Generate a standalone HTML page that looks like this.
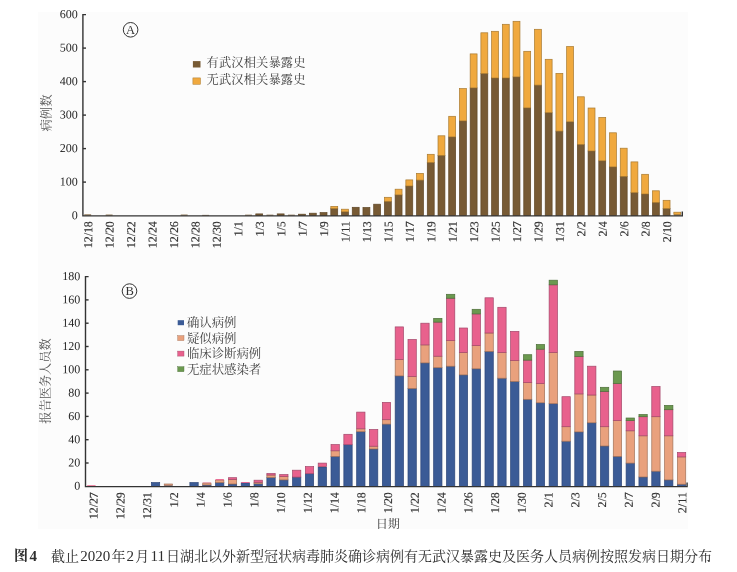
<!DOCTYPE html>
<html lang="zh-CN">
<head>
<meta charset="utf-8">
<title>图4</title>
<style>
html,body{margin:0;padding:0;background:#fff;}
body{width:737px;height:572px;overflow:hidden;position:relative;font-family:"Liberation Serif","Noto Serif CJK SC",serif;color:#303030;}
#fig{position:absolute;left:38px;top:11.5px;width:650px;height:517px;background:#fcfcfc;}
svg{position:absolute;left:0;top:0;}
#cap{position:absolute;left:0;top:545.6px;width:737px;height:20px;line-height:20px;font-size:14px;white-space:nowrap;color:#2e2e2e;}
#cap .n{font-size:15px;margin:0 1.2px;line-height:20px;}
#cap b.n{margin:0;}
#cap b{font-weight:700;}
</style>
</head>
<body>
<div id="fig"></div>
<svg width="737" height="572" viewBox="0 0 737 572">
<g id="barsA">
<rect x="84.25" y="214.40" width="6.90" height="1.20" fill="#775a34"/>
<rect x="105.69" y="214.60" width="6.90" height="1.00" fill="#775a34"/>
<rect x="180.73" y="214.60" width="6.90" height="1.00" fill="#775a34"/>
<rect x="202.17" y="214.90" width="6.90" height="0.70" fill="#775a34"/>
<rect x="245.05" y="214.70" width="6.90" height="0.90" fill="#775a34"/>
<rect x="255.77" y="213.90" width="6.90" height="1.70" fill="#775a34" stroke="#5e4626" stroke-width="0.7"/>
<rect x="266.49" y="214.70" width="6.90" height="0.90" fill="#775a34"/>
<rect x="277.21" y="213.90" width="6.90" height="1.70" fill="#775a34" stroke="#5e4626" stroke-width="0.7"/>
<rect x="287.93" y="214.70" width="6.90" height="0.90" fill="#775a34"/>
<rect x="298.65" y="214.20" width="6.90" height="1.40" fill="#775a34" stroke="#5e4626" stroke-width="0.7"/>
<rect x="309.37" y="213.20" width="6.90" height="2.40" fill="#775a34" stroke="#5e4626" stroke-width="0.7"/>
<rect x="320.09" y="212.60" width="6.90" height="3.00" fill="#775a34" stroke="#5e4626" stroke-width="0.7"/>
<rect x="330.81" y="208.60" width="6.90" height="7.00" fill="#775a34" stroke="#5e4626" stroke-width="0.7"/>
<rect x="330.81" y="206.40" width="6.90" height="2.20" fill="#f0a93e" stroke="#a87a30" stroke-width="0.7"/>
<rect x="341.53" y="211.80" width="6.90" height="3.80" fill="#775a34" stroke="#5e4626" stroke-width="0.7"/>
<rect x="341.53" y="209.20" width="6.90" height="2.60" fill="#f0a93e" stroke="#a87a30" stroke-width="0.7"/>
<rect x="352.25" y="207.30" width="6.90" height="8.30" fill="#775a34" stroke="#5e4626" stroke-width="0.7"/>
<rect x="362.97" y="207.50" width="6.90" height="8.10" fill="#775a34" stroke="#5e4626" stroke-width="0.7"/>
<rect x="373.69" y="204.20" width="6.90" height="11.40" fill="#775a34" stroke="#5e4626" stroke-width="0.7"/>
<rect x="384.41" y="201.40" width="6.90" height="14.20" fill="#775a34" stroke="#5e4626" stroke-width="0.7"/>
<rect x="384.41" y="197.30" width="6.90" height="4.10" fill="#f0a93e" stroke="#a87a30" stroke-width="0.7"/>
<rect x="395.13" y="194.90" width="6.90" height="20.70" fill="#775a34" stroke="#5e4626" stroke-width="0.7"/>
<rect x="395.13" y="189.20" width="6.90" height="5.70" fill="#f0a93e" stroke="#a87a30" stroke-width="0.7"/>
<rect x="405.85" y="186.00" width="6.90" height="29.60" fill="#775a34" stroke="#5e4626" stroke-width="0.7"/>
<rect x="405.85" y="179.90" width="6.90" height="6.10" fill="#f0a93e" stroke="#a87a30" stroke-width="0.7"/>
<rect x="416.57" y="180.10" width="6.90" height="35.50" fill="#775a34" stroke="#5e4626" stroke-width="0.7"/>
<rect x="416.57" y="173.40" width="6.90" height="6.70" fill="#f0a93e" stroke="#a87a30" stroke-width="0.7"/>
<rect x="427.29" y="162.50" width="6.90" height="53.10" fill="#775a34" stroke="#5e4626" stroke-width="0.7"/>
<rect x="427.29" y="154.30" width="6.90" height="8.20" fill="#f0a93e" stroke="#a87a30" stroke-width="0.7"/>
<rect x="438.01" y="155.40" width="6.90" height="60.20" fill="#775a34" stroke="#5e4626" stroke-width="0.7"/>
<rect x="438.01" y="135.80" width="6.90" height="19.60" fill="#f0a93e" stroke="#a87a30" stroke-width="0.7"/>
<rect x="448.73" y="136.90" width="6.90" height="78.70" fill="#775a34" stroke="#5e4626" stroke-width="0.7"/>
<rect x="448.73" y="116.30" width="6.90" height="20.60" fill="#f0a93e" stroke="#a87a30" stroke-width="0.7"/>
<rect x="459.45" y="120.90" width="6.90" height="94.70" fill="#775a34" stroke="#5e4626" stroke-width="0.7"/>
<rect x="459.45" y="88.60" width="6.90" height="32.30" fill="#f0a93e" stroke="#a87a30" stroke-width="0.7"/>
<rect x="470.17" y="87.90" width="6.90" height="127.70" fill="#775a34" stroke="#5e4626" stroke-width="0.7"/>
<rect x="470.17" y="53.90" width="6.90" height="34.00" fill="#f0a93e" stroke="#a87a30" stroke-width="0.7"/>
<rect x="480.89" y="73.60" width="6.90" height="142.00" fill="#775a34" stroke="#5e4626" stroke-width="0.7"/>
<rect x="480.89" y="32.80" width="6.90" height="40.80" fill="#f0a93e" stroke="#a87a30" stroke-width="0.7"/>
<rect x="491.61" y="78.00" width="6.90" height="137.60" fill="#775a34" stroke="#5e4626" stroke-width="0.7"/>
<rect x="491.61" y="31.30" width="6.90" height="46.70" fill="#f0a93e" stroke="#a87a30" stroke-width="0.7"/>
<rect x="502.33" y="78.00" width="6.90" height="137.60" fill="#775a34" stroke="#5e4626" stroke-width="0.7"/>
<rect x="502.33" y="24.30" width="6.90" height="53.70" fill="#f0a93e" stroke="#a87a30" stroke-width="0.7"/>
<rect x="513.05" y="76.90" width="6.90" height="138.70" fill="#775a34" stroke="#5e4626" stroke-width="0.7"/>
<rect x="513.05" y="21.30" width="6.90" height="55.60" fill="#f0a93e" stroke="#a87a30" stroke-width="0.7"/>
<rect x="523.77" y="107.90" width="6.90" height="107.70" fill="#775a34" stroke="#5e4626" stroke-width="0.7"/>
<rect x="523.77" y="51.30" width="6.90" height="56.60" fill="#f0a93e" stroke="#a87a30" stroke-width="0.7"/>
<rect x="534.49" y="85.10" width="6.90" height="130.50" fill="#775a34" stroke="#5e4626" stroke-width="0.7"/>
<rect x="534.49" y="29.30" width="6.90" height="55.80" fill="#f0a93e" stroke="#a87a30" stroke-width="0.7"/>
<rect x="545.21" y="112.70" width="6.90" height="102.90" fill="#775a34" stroke="#5e4626" stroke-width="0.7"/>
<rect x="545.21" y="59.30" width="6.90" height="53.40" fill="#f0a93e" stroke="#a87a30" stroke-width="0.7"/>
<rect x="555.93" y="131.10" width="6.90" height="84.50" fill="#775a34" stroke="#5e4626" stroke-width="0.7"/>
<rect x="555.93" y="73.40" width="6.90" height="57.70" fill="#f0a93e" stroke="#a87a30" stroke-width="0.7"/>
<rect x="566.65" y="121.80" width="6.90" height="93.80" fill="#775a34" stroke="#5e4626" stroke-width="0.7"/>
<rect x="566.65" y="46.50" width="6.90" height="75.30" fill="#f0a93e" stroke="#a87a30" stroke-width="0.7"/>
<rect x="577.37" y="144.50" width="6.90" height="71.10" fill="#775a34" stroke="#5e4626" stroke-width="0.7"/>
<rect x="577.37" y="96.80" width="6.90" height="47.70" fill="#f0a93e" stroke="#a87a30" stroke-width="0.7"/>
<rect x="588.09" y="151.00" width="6.90" height="64.60" fill="#775a34" stroke="#5e4626" stroke-width="0.7"/>
<rect x="588.09" y="108.00" width="6.90" height="43.00" fill="#f0a93e" stroke="#a87a30" stroke-width="0.7"/>
<rect x="598.81" y="160.80" width="6.90" height="54.80" fill="#775a34" stroke="#5e4626" stroke-width="0.7"/>
<rect x="598.81" y="117.40" width="6.90" height="43.40" fill="#f0a93e" stroke="#a87a30" stroke-width="0.7"/>
<rect x="609.53" y="166.90" width="6.90" height="48.70" fill="#775a34" stroke="#5e4626" stroke-width="0.7"/>
<rect x="609.53" y="132.80" width="6.90" height="34.10" fill="#f0a93e" stroke="#a87a30" stroke-width="0.7"/>
<rect x="620.25" y="176.40" width="6.90" height="39.20" fill="#775a34" stroke="#5e4626" stroke-width="0.7"/>
<rect x="620.25" y="148.20" width="6.90" height="28.20" fill="#f0a93e" stroke="#a87a30" stroke-width="0.7"/>
<rect x="630.97" y="192.70" width="6.90" height="22.90" fill="#775a34" stroke="#5e4626" stroke-width="0.7"/>
<rect x="630.97" y="161.90" width="6.90" height="30.80" fill="#f0a93e" stroke="#a87a30" stroke-width="0.7"/>
<rect x="641.69" y="194.00" width="6.90" height="21.60" fill="#775a34" stroke="#5e4626" stroke-width="0.7"/>
<rect x="641.69" y="174.30" width="6.90" height="19.70" fill="#f0a93e" stroke="#a87a30" stroke-width="0.7"/>
<rect x="652.41" y="202.50" width="6.90" height="13.10" fill="#775a34" stroke="#5e4626" stroke-width="0.7"/>
<rect x="652.41" y="190.80" width="6.90" height="11.70" fill="#f0a93e" stroke="#a87a30" stroke-width="0.7"/>
<rect x="663.13" y="208.60" width="6.90" height="7.00" fill="#775a34" stroke="#5e4626" stroke-width="0.7"/>
<rect x="663.13" y="200.30" width="6.90" height="8.30" fill="#f0a93e" stroke="#a87a30" stroke-width="0.7"/>
<rect x="673.85" y="214.40" width="6.90" height="1.20" fill="#775a34"/>
<rect x="673.85" y="212.20" width="6.90" height="2.20" fill="#f0a93e" stroke="#a87a30" stroke-width="0.7"/>
</g>
<g id="barsB">
<rect x="87.25" y="485.80" width="8.30" height="0.70" fill="#e9a17d"/>
<rect x="87.25" y="485.10" width="8.30" height="0.70" fill="#e8618d"/>
<rect x="151.40" y="482.60" width="8.30" height="3.90" fill="#3b5b96" stroke="#2c4578" stroke-width="0.7"/>
<rect x="164.23" y="485.30" width="8.30" height="1.20" fill="#3b5b96"/>
<rect x="164.23" y="484.00" width="8.30" height="1.30" fill="#e9a17d" stroke="#a07158" stroke-width="0.7"/>
<rect x="189.89" y="482.60" width="8.30" height="3.90" fill="#3b5b96" stroke="#2c4578" stroke-width="0.7"/>
<rect x="202.72" y="485.00" width="8.30" height="1.50" fill="#3b5b96" stroke="#2c4578" stroke-width="0.7"/>
<rect x="202.72" y="483.10" width="8.30" height="1.90" fill="#e9a17d" stroke="#a07158" stroke-width="0.7"/>
<rect x="202.72" y="482.60" width="8.30" height="0.50" fill="#e8618d"/>
<rect x="215.55" y="482.60" width="8.30" height="3.90" fill="#3b5b96" stroke="#2c4578" stroke-width="0.7"/>
<rect x="215.55" y="480.20" width="8.30" height="2.40" fill="#e9a17d" stroke="#a07158" stroke-width="0.7"/>
<rect x="215.55" y="479.10" width="8.30" height="1.10" fill="#e8618d"/>
<rect x="228.38" y="484.00" width="8.30" height="2.50" fill="#3b5b96" stroke="#2c4578" stroke-width="0.7"/>
<rect x="228.38" y="479.40" width="8.30" height="4.60" fill="#e9a17d" stroke="#a07158" stroke-width="0.7"/>
<rect x="228.38" y="477.70" width="8.30" height="1.70" fill="#e8618d" stroke="#a3476a" stroke-width="0.7"/>
<rect x="241.21" y="482.90" width="8.30" height="3.60" fill="#3b5b96" stroke="#2c4578" stroke-width="0.7"/>
<rect x="241.21" y="482.00" width="8.30" height="0.90" fill="#e8618d"/>
<rect x="254.04" y="483.80" width="8.30" height="2.70" fill="#3b5b96" stroke="#2c4578" stroke-width="0.7"/>
<rect x="254.04" y="482.30" width="8.30" height="1.50" fill="#e9a17d" stroke="#a07158" stroke-width="0.7"/>
<rect x="254.04" y="480.20" width="8.30" height="2.10" fill="#e8618d" stroke="#a3476a" stroke-width="0.7"/>
<rect x="266.87" y="477.60" width="8.30" height="8.90" fill="#3b5b96" stroke="#2c4578" stroke-width="0.7"/>
<rect x="266.87" y="475.00" width="8.30" height="2.60" fill="#e9a17d" stroke="#a07158" stroke-width="0.7"/>
<rect x="266.87" y="473.50" width="8.30" height="1.50" fill="#e8618d" stroke="#a3476a" stroke-width="0.7"/>
<rect x="279.70" y="479.90" width="8.30" height="6.60" fill="#3b5b96" stroke="#2c4578" stroke-width="0.7"/>
<rect x="279.70" y="476.40" width="8.30" height="3.50" fill="#e9a17d" stroke="#a07158" stroke-width="0.7"/>
<rect x="279.70" y="474.60" width="8.30" height="1.80" fill="#e8618d" stroke="#a3476a" stroke-width="0.7"/>
<rect x="292.53" y="477.10" width="8.30" height="9.40" fill="#3b5b96" stroke="#2c4578" stroke-width="0.7"/>
<rect x="292.53" y="470.20" width="8.30" height="6.90" fill="#e8618d" stroke="#a3476a" stroke-width="0.7"/>
<rect x="305.36" y="473.70" width="8.30" height="12.80" fill="#3b5b96" stroke="#2c4578" stroke-width="0.7"/>
<rect x="305.36" y="466.60" width="8.30" height="7.10" fill="#e8618d" stroke="#a3476a" stroke-width="0.7"/>
<rect x="318.19" y="467.00" width="8.30" height="19.50" fill="#3b5b96" stroke="#2c4578" stroke-width="0.7"/>
<rect x="318.19" y="466.40" width="8.30" height="0.60" fill="#e9a17d"/>
<rect x="318.19" y="463.10" width="8.30" height="3.30" fill="#e8618d" stroke="#a3476a" stroke-width="0.7"/>
<rect x="331.02" y="456.40" width="8.30" height="30.10" fill="#3b5b96" stroke="#2c4578" stroke-width="0.7"/>
<rect x="331.02" y="450.80" width="8.30" height="5.60" fill="#e9a17d" stroke="#a07158" stroke-width="0.7"/>
<rect x="331.02" y="444.60" width="8.30" height="6.20" fill="#e8618d" stroke="#a3476a" stroke-width="0.7"/>
<rect x="343.85" y="444.70" width="8.30" height="41.80" fill="#3b5b96" stroke="#2c4578" stroke-width="0.7"/>
<rect x="343.85" y="434.30" width="8.30" height="10.40" fill="#e8618d" stroke="#a3476a" stroke-width="0.7"/>
<rect x="356.68" y="431.70" width="8.30" height="54.80" fill="#3b5b96" stroke="#2c4578" stroke-width="0.7"/>
<rect x="356.68" y="428.80" width="8.30" height="2.90" fill="#e9a17d" stroke="#a07158" stroke-width="0.7"/>
<rect x="356.68" y="412.10" width="8.30" height="16.70" fill="#e8618d" stroke="#a3476a" stroke-width="0.7"/>
<rect x="369.51" y="449.00" width="8.30" height="37.50" fill="#3b5b96" stroke="#2c4578" stroke-width="0.7"/>
<rect x="369.51" y="446.20" width="8.30" height="2.80" fill="#e9a17d" stroke="#a07158" stroke-width="0.7"/>
<rect x="369.51" y="429.50" width="8.30" height="16.70" fill="#e8618d" stroke="#a3476a" stroke-width="0.7"/>
<rect x="382.34" y="424.10" width="8.30" height="62.40" fill="#3b5b96" stroke="#2c4578" stroke-width="0.7"/>
<rect x="382.34" y="419.70" width="8.30" height="4.40" fill="#e9a17d" stroke="#a07158" stroke-width="0.7"/>
<rect x="382.34" y="402.40" width="8.30" height="17.30" fill="#e8618d" stroke="#a3476a" stroke-width="0.7"/>
<rect x="395.17" y="375.90" width="8.30" height="110.60" fill="#3b5b96" stroke="#2c4578" stroke-width="0.7"/>
<rect x="395.17" y="359.40" width="8.30" height="16.50" fill="#e9a17d" stroke="#a07158" stroke-width="0.7"/>
<rect x="395.17" y="326.90" width="8.30" height="32.50" fill="#e8618d" stroke="#a3476a" stroke-width="0.7"/>
<rect x="408.00" y="388.50" width="8.30" height="98.00" fill="#3b5b96" stroke="#2c4578" stroke-width="0.7"/>
<rect x="408.00" y="376.40" width="8.30" height="12.10" fill="#e9a17d" stroke="#a07158" stroke-width="0.7"/>
<rect x="408.00" y="339.50" width="8.30" height="36.90" fill="#e8618d" stroke="#a3476a" stroke-width="0.7"/>
<rect x="420.83" y="362.90" width="8.30" height="123.60" fill="#3b5b96" stroke="#2c4578" stroke-width="0.7"/>
<rect x="420.83" y="344.90" width="8.30" height="18.00" fill="#e9a17d" stroke="#a07158" stroke-width="0.7"/>
<rect x="420.83" y="323.20" width="8.30" height="21.70" fill="#e8618d" stroke="#a3476a" stroke-width="0.7"/>
<rect x="433.66" y="367.70" width="8.30" height="118.80" fill="#3b5b96" stroke="#2c4578" stroke-width="0.7"/>
<rect x="433.66" y="356.20" width="8.30" height="11.50" fill="#e9a17d" stroke="#a07158" stroke-width="0.7"/>
<rect x="433.66" y="322.10" width="8.30" height="34.10" fill="#e8618d" stroke="#a3476a" stroke-width="0.7"/>
<rect x="433.66" y="318.40" width="8.30" height="3.70" fill="#6b994f" stroke="#4d6e3a" stroke-width="0.7"/>
<rect x="446.49" y="366.20" width="8.30" height="120.30" fill="#3b5b96" stroke="#2c4578" stroke-width="0.7"/>
<rect x="446.49" y="340.60" width="8.30" height="25.60" fill="#e9a17d" stroke="#a07158" stroke-width="0.7"/>
<rect x="446.49" y="298.20" width="8.30" height="42.40" fill="#e8618d" stroke="#a3476a" stroke-width="0.7"/>
<rect x="446.49" y="294.30" width="8.30" height="3.90" fill="#6b994f" stroke="#4d6e3a" stroke-width="0.7"/>
<rect x="459.32" y="374.90" width="8.30" height="111.60" fill="#3b5b96" stroke="#2c4578" stroke-width="0.7"/>
<rect x="459.32" y="352.50" width="8.30" height="22.40" fill="#e9a17d" stroke="#a07158" stroke-width="0.7"/>
<rect x="459.32" y="328.00" width="8.30" height="24.50" fill="#e8618d" stroke="#a3476a" stroke-width="0.7"/>
<rect x="472.15" y="368.80" width="8.30" height="117.70" fill="#3b5b96" stroke="#2c4578" stroke-width="0.7"/>
<rect x="472.15" y="345.60" width="8.30" height="23.20" fill="#e9a17d" stroke="#a07158" stroke-width="0.7"/>
<rect x="472.15" y="313.90" width="8.30" height="31.70" fill="#e8618d" stroke="#a3476a" stroke-width="0.7"/>
<rect x="472.15" y="309.30" width="8.30" height="4.60" fill="#6b994f" stroke="#4d6e3a" stroke-width="0.7"/>
<rect x="484.98" y="351.40" width="8.30" height="135.10" fill="#3b5b96" stroke="#2c4578" stroke-width="0.7"/>
<rect x="484.98" y="333.00" width="8.30" height="18.40" fill="#e9a17d" stroke="#a07158" stroke-width="0.7"/>
<rect x="484.98" y="297.80" width="8.30" height="35.20" fill="#e8618d" stroke="#a3476a" stroke-width="0.7"/>
<rect x="497.81" y="378.20" width="8.30" height="108.30" fill="#3b5b96" stroke="#2c4578" stroke-width="0.7"/>
<rect x="497.81" y="352.50" width="8.30" height="25.70" fill="#e9a17d" stroke="#a07158" stroke-width="0.7"/>
<rect x="497.81" y="307.30" width="8.30" height="45.20" fill="#e8618d" stroke="#a3476a" stroke-width="0.7"/>
<rect x="510.64" y="381.50" width="8.30" height="105.00" fill="#3b5b96" stroke="#2c4578" stroke-width="0.7"/>
<rect x="510.64" y="360.50" width="8.30" height="21.00" fill="#e9a17d" stroke="#a07158" stroke-width="0.7"/>
<rect x="510.64" y="331.40" width="8.30" height="29.10" fill="#e8618d" stroke="#a3476a" stroke-width="0.7"/>
<rect x="523.47" y="399.30" width="8.30" height="87.20" fill="#3b5b96" stroke="#2c4578" stroke-width="0.7"/>
<rect x="523.47" y="382.60" width="8.30" height="16.70" fill="#e9a17d" stroke="#a07158" stroke-width="0.7"/>
<rect x="523.47" y="360.10" width="8.30" height="22.50" fill="#e8618d" stroke="#a3476a" stroke-width="0.7"/>
<rect x="523.47" y="354.70" width="8.30" height="5.40" fill="#6b994f" stroke="#4d6e3a" stroke-width="0.7"/>
<rect x="536.30" y="402.80" width="8.30" height="83.70" fill="#3b5b96" stroke="#2c4578" stroke-width="0.7"/>
<rect x="536.30" y="383.50" width="8.30" height="19.30" fill="#e9a17d" stroke="#a07158" stroke-width="0.7"/>
<rect x="536.30" y="349.20" width="8.30" height="34.30" fill="#e8618d" stroke="#a3476a" stroke-width="0.7"/>
<rect x="536.30" y="344.50" width="8.30" height="4.70" fill="#6b994f" stroke="#4d6e3a" stroke-width="0.7"/>
<rect x="549.13" y="403.70" width="8.30" height="82.80" fill="#3b5b96" stroke="#2c4578" stroke-width="0.7"/>
<rect x="549.13" y="352.50" width="8.30" height="51.20" fill="#e9a17d" stroke="#a07158" stroke-width="0.7"/>
<rect x="549.13" y="284.80" width="8.30" height="67.70" fill="#e8618d" stroke="#a3476a" stroke-width="0.7"/>
<rect x="549.13" y="280.20" width="8.30" height="4.60" fill="#6b994f" stroke="#4d6e3a" stroke-width="0.7"/>
<rect x="561.96" y="441.20" width="8.30" height="45.30" fill="#3b5b96" stroke="#2c4578" stroke-width="0.7"/>
<rect x="561.96" y="426.70" width="8.30" height="14.50" fill="#e9a17d" stroke="#a07158" stroke-width="0.7"/>
<rect x="561.96" y="396.70" width="8.30" height="30.00" fill="#e8618d" stroke="#a3476a" stroke-width="0.7"/>
<rect x="574.79" y="431.90" width="8.30" height="54.60" fill="#3b5b96" stroke="#2c4578" stroke-width="0.7"/>
<rect x="574.79" y="393.90" width="8.30" height="38.00" fill="#e9a17d" stroke="#a07158" stroke-width="0.7"/>
<rect x="574.79" y="356.40" width="8.30" height="37.50" fill="#e8618d" stroke="#a3476a" stroke-width="0.7"/>
<rect x="574.79" y="351.40" width="8.30" height="5.00" fill="#6b994f" stroke="#4d6e3a" stroke-width="0.7"/>
<rect x="587.62" y="422.80" width="8.30" height="63.70" fill="#3b5b96" stroke="#2c4578" stroke-width="0.7"/>
<rect x="587.62" y="395.00" width="8.30" height="27.80" fill="#e9a17d" stroke="#a07158" stroke-width="0.7"/>
<rect x="587.62" y="366.20" width="8.30" height="28.80" fill="#e8618d" stroke="#a3476a" stroke-width="0.7"/>
<rect x="600.45" y="446.00" width="8.30" height="40.50" fill="#3b5b96" stroke="#2c4578" stroke-width="0.7"/>
<rect x="600.45" y="426.70" width="8.30" height="19.30" fill="#e9a17d" stroke="#a07158" stroke-width="0.7"/>
<rect x="600.45" y="391.40" width="8.30" height="35.30" fill="#e8618d" stroke="#a3476a" stroke-width="0.7"/>
<rect x="600.45" y="387.30" width="8.30" height="4.10" fill="#6b994f" stroke="#4d6e3a" stroke-width="0.7"/>
<rect x="613.28" y="456.40" width="8.30" height="30.10" fill="#3b5b96" stroke="#2c4578" stroke-width="0.7"/>
<rect x="613.28" y="420.60" width="8.30" height="35.80" fill="#e9a17d" stroke="#a07158" stroke-width="0.7"/>
<rect x="613.28" y="383.50" width="8.30" height="37.10" fill="#e8618d" stroke="#a3476a" stroke-width="0.7"/>
<rect x="613.28" y="371.00" width="8.30" height="12.50" fill="#6b994f" stroke="#4d6e3a" stroke-width="0.7"/>
<rect x="626.11" y="463.10" width="8.30" height="23.40" fill="#3b5b96" stroke="#2c4578" stroke-width="0.7"/>
<rect x="626.11" y="430.80" width="8.30" height="32.30" fill="#e9a17d" stroke="#a07158" stroke-width="0.7"/>
<rect x="626.11" y="420.60" width="8.30" height="10.20" fill="#e8618d" stroke="#a3476a" stroke-width="0.7"/>
<rect x="626.11" y="418.00" width="8.30" height="2.60" fill="#6b994f" stroke="#4d6e3a" stroke-width="0.7"/>
<rect x="638.94" y="477.00" width="8.30" height="9.50" fill="#3b5b96" stroke="#2c4578" stroke-width="0.7"/>
<rect x="638.94" y="435.80" width="8.30" height="41.20" fill="#e9a17d" stroke="#a07158" stroke-width="0.7"/>
<rect x="638.94" y="416.70" width="8.30" height="19.10" fill="#e8618d" stroke="#a3476a" stroke-width="0.7"/>
<rect x="638.94" y="414.50" width="8.30" height="2.20" fill="#6b994f" stroke="#4d6e3a" stroke-width="0.7"/>
<rect x="651.77" y="471.20" width="8.30" height="15.30" fill="#3b5b96" stroke="#2c4578" stroke-width="0.7"/>
<rect x="651.77" y="416.70" width="8.30" height="54.50" fill="#e9a17d" stroke="#a07158" stroke-width="0.7"/>
<rect x="651.77" y="386.50" width="8.30" height="30.20" fill="#e8618d" stroke="#a3476a" stroke-width="0.7"/>
<rect x="664.60" y="479.90" width="8.30" height="6.60" fill="#3b5b96" stroke="#2c4578" stroke-width="0.7"/>
<rect x="664.60" y="435.80" width="8.30" height="44.10" fill="#e9a17d" stroke="#a07158" stroke-width="0.7"/>
<rect x="664.60" y="409.70" width="8.30" height="26.10" fill="#e8618d" stroke="#a3476a" stroke-width="0.7"/>
<rect x="664.60" y="405.40" width="8.30" height="4.30" fill="#6b994f" stroke="#4d6e3a" stroke-width="0.7"/>
<rect x="677.43" y="484.20" width="8.30" height="2.30" fill="#3b5b96" stroke="#2c4578" stroke-width="0.7"/>
<rect x="677.43" y="456.90" width="8.30" height="27.30" fill="#e9a17d" stroke="#a07158" stroke-width="0.7"/>
<rect x="677.43" y="452.50" width="8.30" height="4.40" fill="#e8618d" stroke="#a3476a" stroke-width="0.7"/>
</g>
<g stroke="#333333" stroke-width="1.4" fill="none">
<path d="M86 14.6H82.9V215.9H682.3V211.6"/>
<path d="M82.9 48.1H86"/>
<path d="M82.9 81.6H86"/>
<path d="M82.9 115.1H86"/>
<path d="M82.9 148.6H86"/>
<path d="M82.9 182.1H86"/>
<path d="M88.6 276.6H85.5V486.6H687.1V482.4"/>
<path d="M85.5 299.9H88.6"/>
<path d="M85.5 323.2H88.6"/>
<path d="M85.5 346.5H88.6"/>
<path d="M85.5 369.8H88.6"/>
<path d="M85.5 393.1H88.6"/>
<path d="M85.5 416.4H88.6"/>
<path d="M85.5 439.7H88.6"/>
<path d="M85.5 463.0H88.6"/>
</g>
<g font-family="'Liberation Serif',serif" font-size="12" fill="#262626" text-anchor="end">
<text x="77.8" y="18.2" transform="rotate(0.4 77.8 14.6)">600</text>
<text x="77.8" y="51.7" transform="rotate(0.4 77.8 48.1)">500</text>
<text x="77.8" y="85.2" transform="rotate(0.4 77.8 81.6)">400</text>
<text x="77.8" y="118.7" transform="rotate(0.4 77.8 115.1)">300</text>
<text x="77.8" y="152.2" transform="rotate(0.4 77.8 148.6)">200</text>
<text x="77.8" y="185.7" transform="rotate(0.4 77.8 182.1)">100</text>
<text x="77.8" y="219.2" transform="rotate(0.4 77.8 215.6)">0</text>
<text x="80.2" y="280.2" transform="rotate(0.4 80.2 276.6)">180</text>
<text x="80.2" y="303.5" transform="rotate(0.4 80.2 299.9)">160</text>
<text x="80.2" y="326.8" transform="rotate(0.4 80.2 323.2)">140</text>
<text x="80.2" y="350.1" transform="rotate(0.4 80.2 346.5)">120</text>
<text x="80.2" y="373.4" transform="rotate(0.4 80.2 369.8)">100</text>
<text x="80.2" y="396.7" transform="rotate(0.4 80.2 393.1)">80</text>
<text x="80.2" y="420.0" transform="rotate(0.4 80.2 416.4)">60</text>
<text x="80.2" y="443.3" transform="rotate(0.4 80.2 439.7)">40</text>
<text x="80.2" y="466.6" transform="rotate(0.4 80.2 463.0)">20</text>
<text x="80.2" y="489.9" transform="rotate(0.4 80.2 486.3)">0</text>
</g>
<g font-family="'Liberation Serif',serif" font-size="12" fill="#303030" stroke="#303030" stroke-width="0.15" text-anchor="end">
<text transform="translate(92.3 221.2) rotate(-89.6)" textLength="27.0" lengthAdjust="spacingAndGlyphs">12/18</text>
<text transform="translate(113.7 221.2) rotate(-89.6)" textLength="27.0" lengthAdjust="spacingAndGlyphs">12/20</text>
<text transform="translate(135.2 221.2) rotate(-89.6)" textLength="27.0" lengthAdjust="spacingAndGlyphs">12/22</text>
<text transform="translate(156.6 221.2) rotate(-89.6)" textLength="27.0" lengthAdjust="spacingAndGlyphs">12/24</text>
<text transform="translate(178.1 221.2) rotate(-89.6)" textLength="27.0" lengthAdjust="spacingAndGlyphs">12/26</text>
<text transform="translate(199.5 221.2) rotate(-89.6)" textLength="27.0" lengthAdjust="spacingAndGlyphs">12/28</text>
<text transform="translate(220.9 221.2) rotate(-89.6)" textLength="27.0" lengthAdjust="spacingAndGlyphs">12/30</text>
<text transform="translate(242.4 221.2) rotate(-89.6)" textLength="15.2" lengthAdjust="spacingAndGlyphs">1/1</text>
<text transform="translate(263.8 221.2) rotate(-89.6)" textLength="15.2" lengthAdjust="spacingAndGlyphs">1/3</text>
<text transform="translate(285.3 221.2) rotate(-89.6)" textLength="15.2" lengthAdjust="spacingAndGlyphs">1/5</text>
<text transform="translate(306.7 221.2) rotate(-89.6)" textLength="15.2" lengthAdjust="spacingAndGlyphs">1/7</text>
<text transform="translate(328.1 221.2) rotate(-89.6)" textLength="15.2" lengthAdjust="spacingAndGlyphs">1/9</text>
<text transform="translate(349.6 221.2) rotate(-89.6)" textLength="21.1" lengthAdjust="spacingAndGlyphs">1/11</text>
<text transform="translate(371.0 221.2) rotate(-89.6)" textLength="21.1" lengthAdjust="spacingAndGlyphs">1/13</text>
<text transform="translate(392.5 221.2) rotate(-89.6)" textLength="21.1" lengthAdjust="spacingAndGlyphs">1/15</text>
<text transform="translate(413.9 221.2) rotate(-89.6)" textLength="21.1" lengthAdjust="spacingAndGlyphs">1/17</text>
<text transform="translate(435.3 221.2) rotate(-89.6)" textLength="21.1" lengthAdjust="spacingAndGlyphs">1/19</text>
<text transform="translate(456.8 221.2) rotate(-89.6)" textLength="21.1" lengthAdjust="spacingAndGlyphs">1/21</text>
<text transform="translate(478.2 221.2) rotate(-89.6)" textLength="21.1" lengthAdjust="spacingAndGlyphs">1/23</text>
<text transform="translate(499.7 221.2) rotate(-89.6)" textLength="21.1" lengthAdjust="spacingAndGlyphs">1/25</text>
<text transform="translate(521.1 221.2) rotate(-89.6)" textLength="21.1" lengthAdjust="spacingAndGlyphs">1/27</text>
<text transform="translate(542.5 221.2) rotate(-89.6)" textLength="21.1" lengthAdjust="spacingAndGlyphs">1/29</text>
<text transform="translate(564.0 221.2) rotate(-89.6)" textLength="21.1" lengthAdjust="spacingAndGlyphs">1/31</text>
<text transform="translate(585.4 221.2) rotate(-89.6)" textLength="15.2" lengthAdjust="spacingAndGlyphs">2/2</text>
<text transform="translate(606.9 221.2) rotate(-89.6)" textLength="15.2" lengthAdjust="spacingAndGlyphs">2/4</text>
<text transform="translate(628.3 221.2) rotate(-89.6)" textLength="15.2" lengthAdjust="spacingAndGlyphs">2/6</text>
<text transform="translate(649.7 221.2) rotate(-89.6)" textLength="15.2" lengthAdjust="spacingAndGlyphs">2/8</text>
<text transform="translate(671.2 221.2) rotate(-89.6)" textLength="21.1" lengthAdjust="spacingAndGlyphs">2/10</text>
<text transform="translate(97.7 492.2) rotate(-89.6)" textLength="27.0" lengthAdjust="spacingAndGlyphs">12/27</text>
<text transform="translate(124.5 492.2) rotate(-89.6)" textLength="27.0" lengthAdjust="spacingAndGlyphs">12/29</text>
<text transform="translate(151.2 492.2) rotate(-89.6)" textLength="27.0" lengthAdjust="spacingAndGlyphs">12/31</text>
<text transform="translate(178.0 492.2) rotate(-89.6)" textLength="15.2" lengthAdjust="spacingAndGlyphs">1/2</text>
<text transform="translate(204.7 492.2) rotate(-89.6)" textLength="15.2" lengthAdjust="spacingAndGlyphs">1/4</text>
<text transform="translate(231.5 492.2) rotate(-89.6)" textLength="15.2" lengthAdjust="spacingAndGlyphs">1/6</text>
<text transform="translate(258.3 492.2) rotate(-89.6)" textLength="15.2" lengthAdjust="spacingAndGlyphs">1/8</text>
<text transform="translate(285.0 492.2) rotate(-89.6)" textLength="21.1" lengthAdjust="spacingAndGlyphs">1/10</text>
<text transform="translate(311.8 492.2) rotate(-89.6)" textLength="21.1" lengthAdjust="spacingAndGlyphs">1/12</text>
<text transform="translate(338.5 492.2) rotate(-89.6)" textLength="21.1" lengthAdjust="spacingAndGlyphs">1/14</text>
<text transform="translate(365.3 492.2) rotate(-89.6)" textLength="21.1" lengthAdjust="spacingAndGlyphs">1/18</text>
<text transform="translate(392.1 492.2) rotate(-89.6)" textLength="21.1" lengthAdjust="spacingAndGlyphs">1/20</text>
<text transform="translate(418.8 492.2) rotate(-89.6)" textLength="21.1" lengthAdjust="spacingAndGlyphs">1/22</text>
<text transform="translate(445.6 492.2) rotate(-89.6)" textLength="21.1" lengthAdjust="spacingAndGlyphs">1/24</text>
<text transform="translate(472.3 492.2) rotate(-89.6)" textLength="21.1" lengthAdjust="spacingAndGlyphs">1/26</text>
<text transform="translate(499.1 492.2) rotate(-89.6)" textLength="21.1" lengthAdjust="spacingAndGlyphs">1/28</text>
<text transform="translate(525.9 492.2) rotate(-89.6)" textLength="21.1" lengthAdjust="spacingAndGlyphs">1/30</text>
<text transform="translate(552.6 492.2) rotate(-89.6)" textLength="15.2" lengthAdjust="spacingAndGlyphs">2/1</text>
<text transform="translate(579.4 492.2) rotate(-89.6)" textLength="15.2" lengthAdjust="spacingAndGlyphs">2/3</text>
<text transform="translate(606.1 492.2) rotate(-89.6)" textLength="15.2" lengthAdjust="spacingAndGlyphs">2/5</text>
<text transform="translate(632.9 492.2) rotate(-89.6)" textLength="15.2" lengthAdjust="spacingAndGlyphs">2/7</text>
<text transform="translate(659.7 492.2) rotate(-89.6)" textLength="15.2" lengthAdjust="spacingAndGlyphs">2/9</text>
<text transform="translate(686.4 492.2) rotate(-89.6)" textLength="21.1" lengthAdjust="spacingAndGlyphs">2/11</text>
</g>
<g font-family="'Liberation Serif','Noto Serif CJK SC',serif" fill="#303030">
<circle cx="130.6" cy="29.8" r="7.3" fill="none" stroke="#333333" stroke-width="1"/>
<text x="130.6" y="34" font-size="12.5" text-anchor="middle">A</text>
<circle cx="129.5" cy="291.1" r="7.3" fill="none" stroke="#333333" stroke-width="1"/>
<text x="129.7" y="295.3" font-size="12.5" text-anchor="middle">B</text>
<rect x="192.9" y="61.1" width="7.6" height="6.4" fill="#775a34"/>
<rect x="192.9" y="77.9" width="7.6" height="6.4" fill="#f0a93e" stroke="#a87a30" stroke-width="0.5"/>
<text x="206.6" y="67.1" font-size="12.2" textLength="98.8" fill="#404040">有武汉相关暴露史</text>
<text x="206.6" y="84.2" font-size="12.2" textLength="98.8" fill="#404040">无武汉相关暴露史</text>
<rect x="177.7" y="320.2" width="6.3" height="5" fill="#3b5b96"/>
<rect x="177.7" y="335.6" width="6.3" height="5" fill="#e9a17d" stroke="#a07158" stroke-width="0.4"/>
<rect x="177.7" y="351.1" width="6.3" height="5" fill="#e8618d" stroke="#a3476a" stroke-width="0.4"/>
<rect x="177.7" y="366.7" width="6.3" height="5" fill="#6b994f" stroke="#4d6e3a" stroke-width="0.4"/>
<text x="186.9" y="327.2" font-size="12.4" fill="#444">确认病例</text>
<text x="186.9" y="342.9" font-size="12.4" fill="#444">疑似病例</text>
<text x="186.9" y="358.2" font-size="12.4" fill="#444">临床诊断病例</text>
<text x="186.9" y="374.2" font-size="12.4" fill="#444">无症状感染者</text>
<text transform="translate(51.3 113) rotate(-90)" font-size="12.3" text-anchor="middle" fill="#555">病例数</text>
<text transform="translate(49.5 381) rotate(-90)" font-size="12.2" text-anchor="middle" fill="#555">报告医务人员数</text>
<text x="387.9" y="528" font-size="11.8" text-anchor="middle">日期</text>
</g>
</svg>
<div id="cap"><b style="position:absolute;left:14px">图</b><b class="n" style="position:absolute;left:29.6px">4</b><span style="position:absolute;left:51px">截止<span class="n">2020</span>年<span class="n">2</span>月<span class="n">11</span>日湖北以外新型冠状病毒肺炎确诊病例有无武汉暴露史及医务人员病例按照发病日期分布</span></div>
</body>
</html>
